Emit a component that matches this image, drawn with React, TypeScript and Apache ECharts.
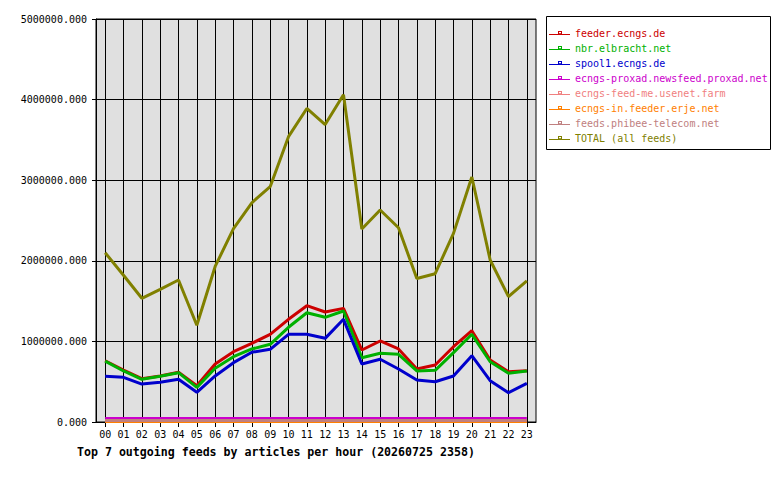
import React, { useEffect, useRef } from "react";
import * as echarts from "echarts";

const hours = ["00","01","02","03","04","05","06","07","08","09","10","11","12","13","14","15","16","17","18","19","20","21","22","23"];

const seriesNames = [
  "feeder.ecngs.de",
  "nbr.elbracht.net",
  "spool1.ecngs.de",
  "ecngs-proxad.newsfeed.proxad.net",
  "ecngs-feed-me.usenet.farm",
  "ecngs-in.feeder.erje.net",
  "feeds.phibee-telecom.net",
  "TOTAL (all feeds)",
];

const seriesColors = ["#cc0000", "#00b000", "#0000cc", "#cc00cc", "#f08080", "#ff8000", "#c08080", "#808000"];

const feeder = [760000, 645000, 537000, 571000, 617000, 450000, 720000, 872000, 976000, 1088000, 1274000, 1443000, 1365000, 1410000, 893000, 1005000, 906000, 657000, 707000, 934000, 1133000, 769000, 624000, 637000];
const nbr = [755000, 633000, 530000, 567000, 612000, 430000, 666000, 810000, 906000, 964000, 1175000, 1356000, 1299000, 1377000, 798000, 852000, 840000, 633000, 641000, 860000, 1088000, 748000, 604000, 633000];
const spool1 = [567000, 554000, 471000, 492000, 530000, 368000, 571000, 736000, 865000, 902000, 1088000, 1088000, 1038000, 1274000, 720000, 778000, 657000, 521000, 500000, 571000, 823000, 513000, 364000, 480000];
const proxad = [42000, 42000, 42000, 42000, 42000, 42000, 42000, 42000, 42000, 42000, 42000, 42000, 42000, 42000, 42000, 42000, 42000, 42000, 42000, 42000, 42000, 42000, 42000, 42000];
const feedMe = [8000, 8000, 8000, 8000, 8000, 8000, 8000, 8000, 8000, 8000, 8000, 8000, 8000, 8000, 8000, 8000, 8000, 8000, 8000, 8000, 8000, 8000, 8000, 8000];
const erje = [6000, 6000, 6000, 6000, 6000, 6000, 6000, 6000, 6000, 6000, 6000, 6000, 6000, 6000, 6000, 6000, 6000, 6000, 6000, 6000, 6000, 6000, 6000, 6000];
const phibee = [18000, 18000, 18000, 18000, 18000, 18000, 18000, 18000, 18000, 18000, 18000, 18000, 18000, 18000, 18000, 18000, 18000, 18000, 18000, 18000, 18000, 18000, 18000, 18000];
const total = [2100000, 1820000, 1535000, 1646000, 1762000, 1200000, 1930000, 2400000, 2720000, 2920000, 3540000, 3890000, 3690000, 4060000, 2395000, 2630000, 2410000, 1780000, 1840000, 2340000, 3040000, 2010000, 1555000, 1750000];

const seriesValues = [feeder, nbr, spool1, proxad, feedMe, erje, phibee, total];

const yMax = 5000000;
const yStep = 1000000;
const titleText = "Top 7 outgoing feeds by articles per hour (20260725 2358)";

const MONO = "'DejaVu Sans Mono', 'Liberation Mono', monospace";

export default function App() {
  const ref = useRef<HTMLDivElement>(null);

  useEffect(() => {
    document.body.style.margin = "0";
    const chart = echarts.init(ref.current!, null, { renderer: "svg" });
    chart.setOption({
      animation: false,
      backgroundColor: "#ffffff",
      title: {
        text: titleText,
        left: 77,
        top: 446,
        padding: 0,
        textStyle: { fontFamily: MONO, fontSize: 11.6, fontWeight: "bold", color: "#000" },
      },
      legend: {
        orient: "vertical",
        left: 549,
        top: 27,
        padding: 0,
        itemWidth: 21,
        itemHeight: 5,
        itemGap: 3,
        selectedMode: false,
        icon: "path://M0,3L21,3L21,4L0,4Z M9,0L13,0L13,3L9,3Z M10,1L10,2.2L12,2.2L12,1Z",
        itemStyle: { borderWidth: 0 },
        textStyle: { fontFamily: MONO, fontSize: 10, lineHeight: 12 },
        data: seriesNames.map((n, i) => ({ name: n, textStyle: { color: seriesColors[i] } })),
      },
      graphic: [
        {
          type: "rect",
          shape: { x: 546.5, y: 16.5, width: 224, height: 133 },
          style: { fill: "none", stroke: "#000", lineWidth: 1 },
          z: 10,
        },
      ],
      grid: {
        left: 96,
        top: 19,
        width: 440,
        height: 403,
        show: true,
        backgroundColor: "#e0e0e0",
        borderColor: "#000",
        borderWidth: 1,
      },
      xAxis: {
        type: "category",
        data: hours,
        boundaryGap: true,
        axisLine: { show: true, lineStyle: { color: "#000", width: 1 } },
        axisTick: { show: true, alignWithLabel: true, interval: 0, length: 5, lineStyle: { color: "#000" } },
        axisLabel: { interval: 0, margin: 7, fontFamily: MONO, fontSize: 10, color: "#000" },
        splitLine: { show: true, alignWithLabel: true, interval: 0, lineStyle: { color: "#000", width: 1 } },
      },
      yAxis: {
        type: "value",
        min: 0,
        max: yMax,
        interval: yStep,
        axisLine: { show: true, lineStyle: { color: "#000", width: 1 } },
        axisTick: { show: true, length: 4, lineStyle: { color: "#000" } },
        axisLabel: {
          margin: 9,
          fontFamily: MONO,
          fontSize: 10,
          color: "#000",
          formatter: (v: number) => v.toFixed(3),
        },
        splitLine: { show: true, lineStyle: { color: "#000", width: 1 } },
      },
      series: seriesNames.map((n, i) => ({
        name: n,
        type: "line",
        data: seriesValues[i],
        symbol: "none",
        color: seriesColors[i],
        lineStyle: { width: 3, color: seriesColors[i] },
      })),
    });
    return () => chart.dispose();
  }, []);

  return <div ref={ref} style={{ position: "absolute", left: 0, top: 0, width: 780, height: 480 }} />;
}
